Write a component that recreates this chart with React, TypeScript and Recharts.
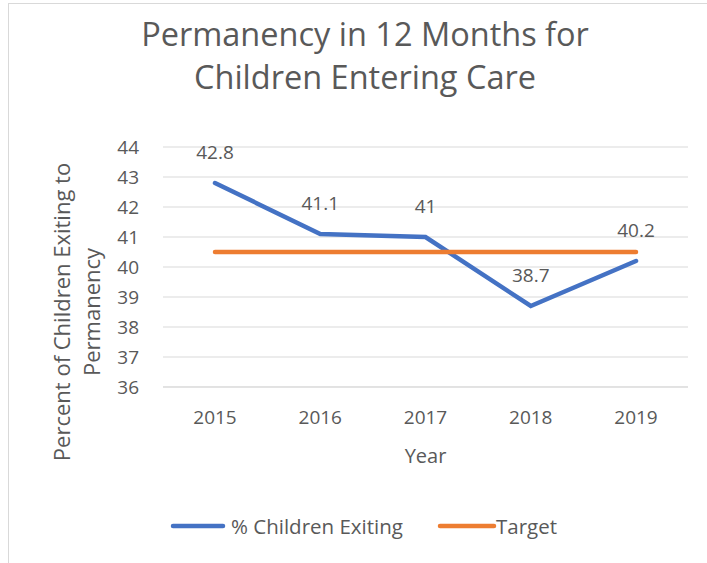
import React from 'react';
import {
  LineChart,
  Line,
  XAxis,
  YAxis,
  CartesianGrid,
  Legend,
  LabelList
} from 'recharts';

const years = ['2015', '2016', '2017', '2018', '2019'];
const exitingValues = [42.8, 41.1, 41, 38.7, 40.2];
const targetValues = [40.5, 40.5, 40.5, 40.5, 40.5];
const yTicks = [36, 37, 38, 39, 40, 41, 42, 43, 44];

const data = years.map((year, i) => ({
  year,
  exiting: exitingValues[i],
  target: targetValues[i]
}));

const FONT = '"Open Sans", "Noto Sans", sans-serif';
const TEXT = '#595959';
const BLUE = '#4472C4';
const ORANGE = '#ED7D31';

// two line rotated axis title, like Excel wraps it
const YLabel = () => (
  <text
    transform="translate(70, 312) rotate(-90)"
    textAnchor="middle"
    fill={TEXT}
    fontSize={22}
    fontFamily={FONT}
  >
    <tspan x={0} dy={0}>Percent of Children Exiting to</tspan>
    <tspan x={0} dy={30}>Permanency</tspan>
  </text>
);

const legendItems = [
  { name: '% Children Exiting', color: BLUE, left: 170, textLeft: 231 },
  { name: 'Target', color: ORANGE, left: 437, textLeft: 496 }
];

const LegendContent = () => (
  <div style={{ position: 'relative', height: 30, fontFamily: FONT, fontSize: 20.5, color: TEXT }}>
    {legendItems.map((item) => (
      <React.Fragment key={item.name}>
        <svg width={62} height={10} style={{ position: 'absolute', left: item.left, top: 10 }}>
          <line x1={3} y1={5} x2={item.name === 'Target' ? 57 : 53} y2={5} stroke={item.color} strokeWidth={4.5} strokeLinecap="round" />
        </svg>
        <span style={{ position: 'absolute', left: item.textLeft, top: 0, lineHeight: '30px', whiteSpace: 'nowrap' }}>
          {item.name}
        </span>
      </React.Fragment>
    ))}
  </div>
);

export default function App() {
  return (
    <div style={{ position: 'absolute', left: 0, top: 0, width: 707, height: 563, background: '#fff', overflow: 'hidden' }}>
      <div
        style={{
          position: 'absolute',
          left: 8,
          top: 3,
          width: 720,
          height: 620,
          border: '1px solid #d9d9d9',
          boxSizing: 'border-box'
        }}
      />
      <div
        style={{
          position: 'absolute',
          left: 0,
          top: 12,
          width: 730,
          textAlign: 'center',
          fontFamily: FONT,
          fontSize: 32.5,
          lineHeight: '43px',
          color: TEXT
        }}
      >
        Permanency in 12 Months for
        <br />
        Children Entering Care
      </div>
      <div style={{ position: 'absolute', left: 0, top: 0 }}>
        <LineChart
          width={707}
          height={563}
          data={data}
          margin={{ top: 147, right: 19, bottom: 136, left: 103 }}
        >
          <CartesianGrid vertical={false} stroke="#d9d9d9" strokeWidth={1} />
          <XAxis
            dataKey="year"
            tickLine={false}
            axisLine={{ stroke: '#d9d9d9' }}
            padding={{ left: 52, right: 52 }}
            tick={{ fill: TEXT, fontSize: 19, fontFamily: FONT }}
            tickMargin={18}
            height={40}
            label={{ value: 'Year', position: 'insideBottom', offset: -36, fill: TEXT, fontSize: 20, fontFamily: FONT }}
          />
          <YAxis
            domain={[36, 44]}
            ticks={yTicks}
            interval={0}
            tickLine={false}
            axisLine={false}
            width={60}
            tick={{ fill: TEXT, fontSize: 19, fontFamily: FONT }}
            tickMargin={18}
            label={<YLabel />}
          />
          <Legend
            layout="horizontal"
            verticalAlign="middle"
            align="center"
            content={<LegendContent />}
            wrapperStyle={{ top: 511, left: 0, width: 707 }}
          />
          <Line
            dataKey="exiting"
            name="% Children Exiting"
            stroke={BLUE}
            strokeWidth={4.5}
            strokeLinecap="round"
            dot={false}
            activeDot={false}
            isAnimationActive={false}
          >
            <LabelList dataKey="exiting" position="top" offset={24} fill={TEXT} fontSize={19} fontFamily={FONT} />
          </Line>
          <Line
            dataKey="target"
            name="Target"
            stroke={ORANGE}
            strokeWidth={4.5}
            strokeLinecap="round"
            dot={false}
            activeDot={false}
            isAnimationActive={false}
          />
        </LineChart>
      </div>
    </div>
  );
}
